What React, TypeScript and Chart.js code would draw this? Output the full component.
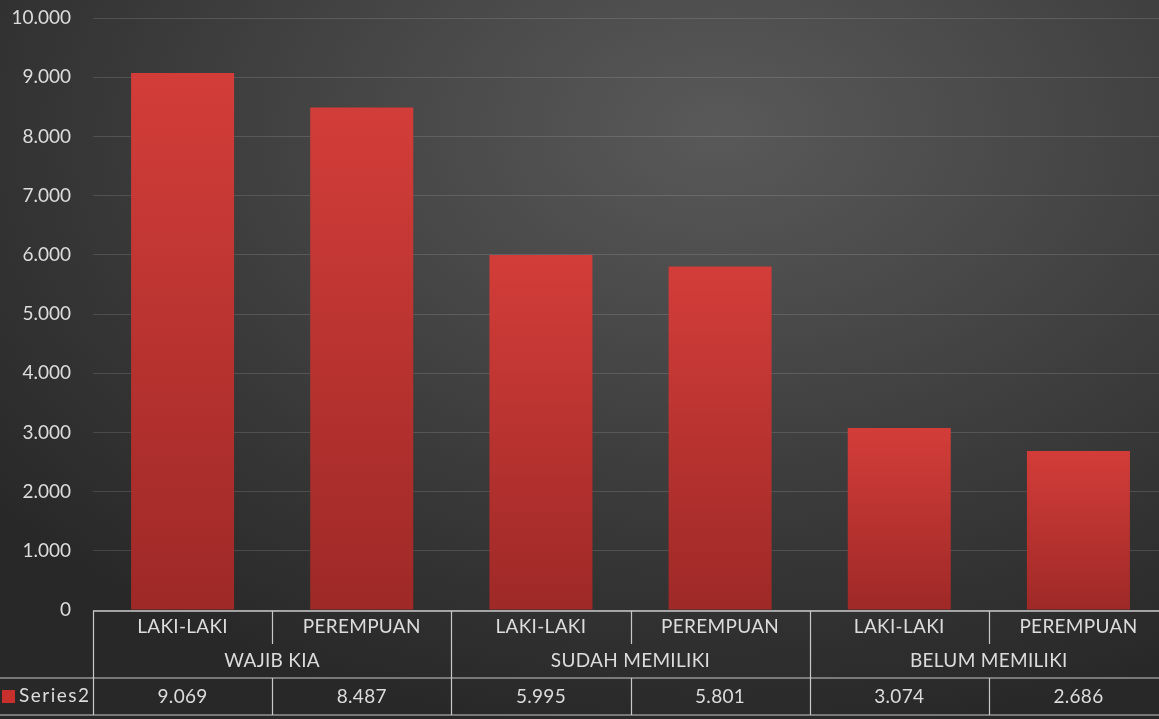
import React, { useEffect, useRef } from "react";
import { Chart, registerables } from "chart.js";

Chart.register(...registerables);

const subCategories = ["LAKI-LAKI", "PEREMPUAN", "LAKI-LAKI", "PEREMPUAN", "LAKI-LAKI", "PEREMPUAN"];
const groups = ["WAJIB KIA", "SUDAH MEMILIKI", "BELUM MEMILIKI"];
const seriesName = "Series2";
const seriesValues = [9069, 8487, 5995, 5801, 3074, 2686];
const yMax = 10000;
const yStep = 1000;

const FONT = "Lato, 'Open Sans', sans-serif";
const TEXT = "#dcdcdc";
const LINE = "#c8c8c8";

const fmt = (v: number) => {
  const s = Math.round(v).toString();
  return s.replace(/\B(?=(\d{3})+(?!\d))/g, ".");
};

const tablePlugin = {
  id: "dataTable",
  afterDraw(chart: any) {
    const ctx = chart.ctx;
    const x = chart.scales.x;
    const area = chart.chartArea;
    const n = subCategories.length;
    const half = (x.getPixelForValue(1) - x.getPixelForValue(0)) / 2;
    const left = area.left;
    const right = area.right;
    const top = area.bottom + 1;
    const row1 = top + 33;
    const row2 = top + 67;
    const bottom = top + 104;
    ctx.save();
    ctx.strokeStyle = LINE;
    ctx.lineWidth = 1.5;
    ctx.beginPath();
    ctx.moveTo(left, top);
    ctx.lineTo(right, top);
    ctx.stroke();
    ctx.lineWidth = 1.2;
    ctx.beginPath();
    ctx.moveTo(0, row2);
    ctx.lineTo(right, row2);
    ctx.moveTo(0, bottom);
    ctx.lineTo(right, bottom);
    ctx.stroke();
    for (let i = 0; i < n; i++) {
      const bx = Math.round(x.getPixelForValue(i) - half) + 0.5;
      ctx.beginPath();
      if (i % 2 === 0) {
        ctx.moveTo(bx, top);
        ctx.lineTo(bx, bottom);
      } else {
        ctx.moveTo(bx, top);
        ctx.lineTo(bx, row1);
        ctx.moveTo(bx, row2);
        ctx.lineTo(bx, bottom);
      }
      ctx.stroke();
    }
    ctx.fillStyle = TEXT;
    ctx.font = `19px ${FONT}`;
    ctx.textAlign = "center";
    ctx.textBaseline = "middle";
    (ctx as any).letterSpacing = "0.3px";
    for (let i = 0; i < n; i++) {
      const cx = x.getPixelForValue(i);
      ctx.fillText(subCategories[i], cx, top + 16);
      ctx.fillText(fmt(seriesValues[i]), cx, row2 + 19);
    }
    for (let g = 0; g < groups.length; g++) {
      const cx = (x.getPixelForValue(g * 2) + x.getPixelForValue(g * 2 + 1)) / 2;
      ctx.fillText(groups[g], cx, top + 50);
    }
    ctx.fillStyle = "#c8302d";
    ctx.fillRect(2, row2 + 12, 13, 13);
    ctx.fillStyle = TEXT;
    ctx.textAlign = "left";
    (ctx as any).letterSpacing = "1.5px";
    ctx.fillText(seriesName, 19, row2 + 18);
    ctx.restore();
  },
};

export default function App() {
  const ref = useRef<HTMLCanvasElement>(null);
  useEffect(() => {
    if (!ref.current) return;
    const chart = new Chart(ref.current, {
      type: "bar",
      data: {
        labels: subCategories,
        datasets: [
          {
            label: seriesName,
            data: seriesValues,
            categoryPercentage: 1,
            barPercentage: 0.575,
            backgroundColor: (c: any) => {
              const ch = c.chart;
              const y = ch.scales?.y;
              if (!ch.chartArea || !y || c.parsed == null) return "#c8302d";
              const top = y.getPixelForValue(c.parsed.y);
              const bot = y.getPixelForValue(0);
              const g = ch.ctx.createLinearGradient(0, top, 0, bot);
              g.addColorStop(0, "#d33d39");
              g.addColorStop(1, "#9e2927");
              return g;
            },
          },
        ],
      },
      options: {
        responsive: false,
        animation: false,
        layout: { padding: { top: 18, bottom: 109, left: 0, right: 0 } },
        plugins: { legend: { display: false }, tooltip: { enabled: false } },
        scales: {
          x: { display: false },
          y: {
            min: 0,
            max: yMax,
            ticks: {
              stepSize: yStep,
              color: TEXT,
              font: { family: FONT, size: 19 },
              padding: 22,
              callback: (v: any) => fmt(Number(v)),
            },
            grid: { color: "rgba(255,255,255,0.13)", drawTicks: false, lineWidth: 1 },
            border: { display: false },
            afterFit: (s: any) => {
              s.width = 93;
              s.paddingTop = 0;
              s.paddingBottom = 0;
            },
          },
        },
      },
      plugins: [tablePlugin],
    });
    return () => chart.destroy();
  }, []);
  return (
    <div
      style={{
        position: "fixed",
        left: 0,
        top: 0,
        width: 1159,
        height: 719,
        overflow: "hidden",
        background:
          "radial-gradient(ellipse 80% 85% at 62% 18%, #595959 0%, #484848 35%, #363636 70%, #282828 100%)",
      }}
    >
      <canvas ref={ref} width={1168} height={719} style={{ display: "block" }} />
    </div>
  );
}
